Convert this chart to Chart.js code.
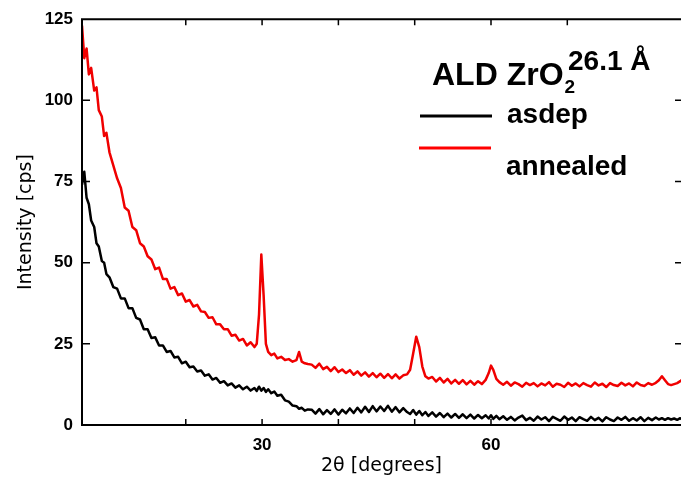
<!DOCTYPE html>
<html>
<head>
<meta charset="utf-8">
<title>ALD ZrO2 XRD</title>
<script src="https://cdn.jsdelivr.net/npm/chart.js@4.4.1/dist/chart.umd.min.js"></script>
<style>
  html, body { margin: 0; padding: 0; background: #fff; }
</style>
</head>
<body>
<canvas id="xrd-chart" width="681" height="478"></canvas>
<script>
"use strict"

// 2-theta positions (degrees), shared by both scans
const angles = [
  6.4, 6.7, 7, 7.3, 7.6, 8, 8.3, 8.6, 9, 9.3, 9.6, 10,
  10.5, 11, 11.5, 12, 12.5, 13, 13.5, 14, 14.5, 15, 15.5, 16, 16.5, 17, 17.5, 18, 18.5, 19, 19.5,
  20, 20.5, 21, 21.5, 22, 22.5, 23, 23.5, 24, 24.5, 25, 25.5, 26, 26.5, 27, 27.5, 28, 28.5, 29,
  29.3, 29.6, 29.9, 30.2, 30.5, 30.8, 31.2, 31.6, 32, 32.5, 33, 33.5, 34, 34.5, 34.85, 35.2, 35.6, 36,
  36.5, 37, 37.5, 38, 38.5, 39, 39.5, 40, 40.5, 41, 41.5, 42, 42.5, 43, 43.5, 44, 44.5, 45, 45.5,
  46, 46.5, 47, 47.5, 48, 48.5, 49,
  49.4, 49.8, 50.2, 50.6, 51, 51.4, 51.8,
  52.3, 52.8, 53.3, 53.8, 54.3, 54.8, 55.3, 55.8, 56.3, 56.8, 57.3, 57.8, 58.3, 58.8, 59.3,
  59.7, 60, 60.3, 60.7, 61.1,
  61.6, 62.1, 62.6, 63.1, 63.6, 64.1, 64.6, 65.1, 65.6, 66.1, 66.6, 67.1, 67.6, 68.1, 68.6, 69.1,
  69.6, 70.1, 70.6, 71.1, 71.6, 72.1, 72.6, 73.1, 73.6, 74.1, 74.6, 75.1, 75.6, 76.1, 76.6, 77.1,
  77.6, 78.1, 78.6, 79.1, 79.6, 80.1, 80.6, 81.1, 81.6,
  82, 82.4, 82.8, 83.2, 83.6, 84, 84.4, 84.8, 85,
]

// as-deposited film (cps)
const asdep = [
  74, 78, 70, 68, 63, 61, 56, 55, 50.5, 50, 46.5, 45.5,
  42.5, 42, 39, 39, 36, 36, 33, 32.5, 29.5, 29.5, 26.8, 27, 24.5, 24.5, 22.5, 22.8, 20.8, 21, 19,
  19.5, 17.8, 18, 16.5, 16.8, 15.2, 15.6, 14, 14.5, 13, 13.5, 12.2, 12.8, 11.5, 12.2, 11, 11.8, 10.6, 11.4,
  10.5, 11.8, 10.6, 11.4, 10.2, 11, 9.8, 10.3, 9, 9.3, 7.6, 7.2, 6, 5.8, 5, 5.3, 4.4, 4.8,
  4.7, 3.5, 4.9, 3.3, 4.6, 3.4, 4.8, 3.2, 4.7, 3.6, 5.1, 3.7, 5.3, 3.9, 5.6, 4, 5.8, 4.2, 5.7,
  4.3, 5.9, 4.1, 5.5, 3.9, 5.2, 4,
  3.4, 4.6, 3.2, 4.3, 3, 4, 2.8,
  3.9, 2.6, 3.7, 2.4, 3.5, 2.3, 3.4, 2.2, 3.3, 2.1, 3.2, 2, 3.1, 2.1, 3,
  2, 3, 1.9, 2.8, 1.8,
  2.7, 1.6, 2.5, 1.4, 2.3, 2.9, 1.5, 2.2, 1.3, 2.6, 1.7, 2.4, 1.2, 2.5, 1.9, 1.3,
  2.6, 1.6, 2.3, 1.2, 2.4, 1.8, 1.3, 2.5, 1.5, 2.2, 1.1, 2.4, 1.7, 1.2, 2.3, 1.6,
  2.5, 1.3, 2.1, 1.4, 2.4, 1.2, 2.2, 1.5, 2.3,
  1.7, 2.1, 1.6, 2.1, 1.7, 2, 1.6, 2.1, 1.8,
]

// annealed film (cps)
const annealed = [
  123, 113, 116, 108, 110, 103, 104, 97, 95, 89, 90, 84,
  80, 76, 73, 67, 66, 61, 60, 56, 55, 52, 51, 48, 48.5, 45, 45, 42, 42.5, 40, 40.5,
  38, 38.5, 36.5, 37, 35, 34.8, 33, 33.2, 31, 31, 29.5, 29.5, 27.5, 27.8, 26, 26.5, 24.5, 25.5, 24,
  25, 34, 52.5, 40, 25, 22.5, 21.5, 22, 20.5, 21, 20, 20.3, 19.5, 20, 22.5, 19.5, 19, 18.8,
  18.6, 17.6, 18.9, 17.2, 17.9, 16.6, 17.8, 16.3, 17.1, 16, 16.9, 15.5, 16.5, 15.2, 16.2, 14.9, 16, 14.7, 15.8,
  14.5, 15.7, 14.4, 15.6, 14.3, 15.3, 15.6,
  17, 22, 27.2, 24, 18, 15, 14.3,
  14.8, 13.4, 14.5, 13.1, 14.2, 12.8, 13.9, 12.7, 13.8, 12.5, 13.6, 12.4, 13.5, 12.6, 13.9,
  16, 18.3, 17, 14.2, 13.2,
  12.4, 13.3, 12.1, 13.1, 12.6, 11.8, 13, 12.3, 12.9, 11.9, 12.8, 12.2, 13.2, 11.8, 12.7, 12.4,
  11.7, 13, 12.1, 12.8, 11.9, 12.9, 12.3, 11.8, 13.1, 12.2, 12.7, 11.7, 12.9, 12.3, 12, 13,
  12.2, 12.8, 11.9, 13.1, 12.3, 12, 12.9, 12.4, 13,
  13.8, 15, 13.8, 12.6, 12.3, 12.6, 12.9, 13.5, 13.9,
]

// tick labels
const xTickLabels = [30, 60]
const yTickStep = 25

const toPoints = (ys) => angles.map((a, i) => ({ x: a, y: ys[i] }))

// frame + inward tick marks
const framePlugin = {
  id: "frame",
  afterDatasetsDraw(chart) {
    const { ctx, chartArea: area, scales } = chart
    ctx.save()
    ctx.strokeStyle = "#000"
    ctx.lineWidth = 2
    ctx.beginPath()
    ctx.moveTo(area.right + 4, area.top)
    ctx.lineTo(area.left, area.top)
    ctx.lineTo(area.left, area.bottom)
    ctx.lineTo(area.right + 4, area.bottom)
    ctx.stroke()

    ctx.lineWidth = 1.5
    ctx.beginPath()
    scales.x.ticks.forEach((t) => {
      if (t.value % 10 !== 0) return
      const px = scales.x.getPixelForValue(t.value)
      ctx.moveTo(px, area.bottom)
      ctx.lineTo(px, area.bottom - 6)
      ctx.moveTo(px, area.top)
      ctx.lineTo(px, area.top + 6)
    })
    scales.y.ticks.forEach((t) => {
      if (t.value === 0 || t.value === 125) return
      const py = scales.y.getPixelForValue(t.value)
      ctx.moveTo(area.left, py)
      ctx.lineTo(area.left + 8, py)
      ctx.moveTo(area.right, py)
      ctx.lineTo(area.right - 6, py)
    })
    ctx.stroke()
    ctx.restore()
  },
}

// title + legend drawn in the upper right
const legendPlugin = {
  id: "sampleLegend",
  afterDraw(chart) {
    const ctx = chart.ctx
    ctx.save()
    ctx.fillStyle = "#000"
    ctx.textBaseline = "alphabetic"
    ctx.font = "bold 32px 'Liberation Sans', Arial, sans-serif"
    ctx.fillText("ALD ZrO", 432, 85)
    const w = ctx.measureText("ALD ZrO").width
    ctx.font = "bold 19px 'Liberation Sans', Arial, sans-serif"
    ctx.fillText("2", 432 + w + 1, 93)
    ctx.font = "bold 28px 'Liberation Sans', Arial, sans-serif"
    ctx.fillText("26.1 Å", 568, 70)

    ctx.lineWidth = 3
    ctx.strokeStyle = "#000"
    ctx.beginPath()
    ctx.moveTo(420, 116)
    ctx.lineTo(492, 116)
    ctx.stroke()
    ctx.strokeStyle = "#ff0000"
    ctx.beginPath()
    ctx.moveTo(419, 148)
    ctx.lineTo(491, 148)
    ctx.stroke()

    ctx.font = "bold 28px 'Liberation Sans', Arial, sans-serif"
    ctx.fillText("asdep", 507, 123)
    ctx.fillText("annealed", 506, 175)
    ctx.restore()
  },
}

const xrdCanvas = document.getElementById("xrd-chart")

let xrdChart = new Chart(xrdCanvas, {
  type: "line",
  data: {
    datasets: [
      {
        label: "asdep",
        data: toPoints(asdep),
        borderColor: "#000000",
        borderWidth: 2.5,
        borderJoinStyle: "round",
        pointRadius: 0,
        tension: 0,
      },
      {
        label: "annealed",
        data: toPoints(annealed),
        borderColor: "#f00000",
        borderWidth: 2.5,
        borderJoinStyle: "round",
        pointRadius: 0,
        tension: 0,
      },
    ],
  },
  options: {
    responsive: false,
    devicePixelRatio: 1,
    animation: false,
    layout: { padding: { top: 18, left: 0, right: 0, bottom: 0 } },
    plugins: {
      legend: { display: false },
      tooltip: { enabled: false },
    },
    scales: {
      x: {
        type: "linear",
        min: 6.4,
        max: 84.9,
        afterFit(scale) {
          scale.height = 53
          scale.paddingLeft = 0
          scale.paddingRight = 0
        },
        grid: { display: false, drawTicks: false },
        border: { display: false },
        ticks: {
          stepSize: 10,
          autoSkip: false,
          maxRotation: 0,
          padding: 10,
          color: "#000",
          font: { family: "'Liberation Sans', Arial, sans-serif", size: 17, weight: "bold" },
          callback: (v) => (xTickLabels.includes(v) ? String(v) : ""),
        },
        title: {
          display: true,
          text: "2θ [degrees]",
          color: "#000",
          font: { family: "'DejaVu Sans', sans-serif", size: 19 },
          padding: { top: 0, bottom: 1 },
        },
      },
      y: {
        min: 0,
        max: 125,
        afterFit(scale) {
          scale.width = 82
        },
        grid: { display: false, drawTicks: false },
        border: { display: false },
        ticks: {
          stepSize: yTickStep,
          padding: 9,
          color: "#000",
          font: { family: "'Liberation Sans', Arial, sans-serif", size: 17, weight: "bold" },
        },
        title: {
          display: true,
          text: "Intensity [cps]",
          color: "#000",
          font: { family: "'DejaVu Sans', sans-serif", size: 19 },
          padding: { top: 15, bottom: 0 },
        },
      },
    },
  },
  plugins: [framePlugin, legendPlugin],
})
</script>
</body>
</html>
